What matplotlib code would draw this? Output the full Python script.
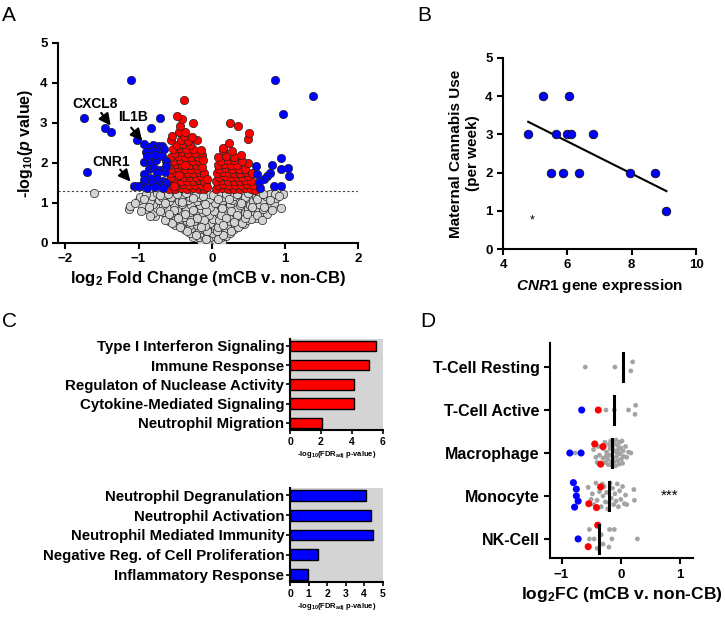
import matplotlib
matplotlib.use("Agg")
import matplotlib.pyplot as plt
import numpy as np

plt.rcParams["font.family"] = ["Liberation Sans", "DejaVu Sans"]
plt.rcParams["font.weight"] = "bold"
plt.rcParams["axes.labelweight"] = "bold"
plt.rcParams["mathtext.fontset"] = "custom"
plt.rcParams["mathtext.rm"] = "Liberation Sans:bold"
plt.rcParams["mathtext.bf"] = "Liberation Sans:bold"
plt.rcParams["mathtext.it"] = "Liberation Sans:bold:italic"
plt.rcParams["mathtext.default"] = "rm"
plt.rcParams["axes.linewidth"] = 1.5

BLUE = "#0000ff"
RED = "#ff0000"

# ---- panel A: volcano (log2 fold change, -log10 p) ----
grey_points = [
    (0.00, 0.02), (0.14, 0.02), (-0.15, 0.05), (-0.05, 0.05), (0.05, 0.06),
    (-0.26, 0.15), (-0.18, 0.14), (-0.10, 0.16), (-0.02, 0.15), (0.06, 0.15), (0.12, 0.14), (0.20, 0.16),
    (-0.30, 0.25), (-0.20, 0.26), (-0.12, 0.25), (-0.06, 0.24), (0.02, 0.25), (0.08, 0.26), (0.16, 0.25), (0.25, 0.24),
    (-0.38, 0.35), (-0.28, 0.36), (-0.18, 0.35), (-0.10, 0.34), (-0.04, 0.36), (0.04, 0.35), (0.10, 0.34), (0.20, 0.36), (0.30, 0.35),
    (-0.50, 0.45), (-0.42, 0.46), (-0.30, 0.45), (-0.20, 0.44), (-0.12, 0.46), (-0.05, 0.45), (0.03, 0.44),
    (0.12, 0.46), (0.22, 0.45), (0.32, 0.44), (0.44, 0.46),
    (-0.58, 0.55), (-0.45, 0.56), (-0.34, 0.55), (-0.24, 0.54), (-0.15, 0.56), (-0.08, 0.55), (0.05, 0.54),
    (0.14, 0.56), (0.25, 0.55), (0.36, 0.54), (0.48, 0.56), (-0.02, 0.50),
    (-0.77, 0.68), (-0.60, 0.65), (-0.50, 0.66), (-0.38, 0.64), (-0.28, 0.65), (-0.18, 0.66), (-0.10, 0.65),
    (0.06, 0.64), (0.16, 0.66), (0.28, 0.65), (0.40, 0.64), (0.52, 0.66), (0.60, 0.62), (0.02, 0.60),
    (-0.80, 0.75), (-0.66, 0.76), (-0.55, 0.74), (-0.42, 0.75), (-0.30, 0.76), (-0.20, 0.75), (-0.12, 0.74),
    (0.08, 0.75), (0.18, 0.76), (0.32, 0.74), (0.45, 0.75), (0.57, 0.76), (0.66, 0.74), (0.76, 0.73), (-0.04, 0.70),
    (-1.13, 0.85), (-0.90, 0.85), (-0.75, 0.86), (-0.60, 0.84), (-0.48, 0.85), (-0.35, 0.86), (-0.24, 0.85),
    (-0.14, 0.84), (0.10, 0.85), (0.22, 0.86), (0.35, 0.84), (0.50, 0.85), (0.62, 0.86), (0.70, 0.84), (0.95, 0.86),
    (0.03, 0.80), (-1.12, 0.93), (-0.95, 0.95), (-0.80, 0.96), (-0.66, 0.94), (-0.52, 0.95), (-0.40, 0.96),
    (-0.28, 0.95), (-0.16, 0.94), (0.12, 0.95), (0.25, 0.96), (0.38, 0.94), (0.52, 0.95), (0.65, 0.96),
    (0.80, 0.94), (-0.03, 0.90), (-0.99, 1.08), (-0.85, 1.05), (-0.72, 1.06), (-0.58, 1.04), (-0.45, 1.05),
    (-0.32, 1.06), (-0.20, 1.05), (-0.10, 1.04), (0.14, 1.05), (0.28, 1.06), (0.42, 1.04), (0.56, 1.05),
    (0.70, 1.06), (0.85, 1.00), (0.04, 1.00), (-0.98, 1.15), (-0.82, 1.16), (-0.68, 1.14), (-0.55, 1.15),
    (-0.42, 1.16), (-0.30, 1.15), (-0.18, 1.14), (0.16, 1.15), (0.30, 1.16), (0.45, 1.14), (0.60, 1.15),
    (0.74, 1.16), (0.88, 1.12), (-0.04, 1.10), (-1.61, 1.24), (-0.90, 1.23), (-0.75, 1.24), (-0.60, 1.22),
    (-0.48, 1.23), (-0.35, 1.24), (-0.22, 1.22), (-0.05, 1.23), (0.10, 1.24), (0.20, 1.22), (0.35, 1.23),
    (0.50, 1.25), (0.65, 1.23), (0.80, 1.22), (0.87, 1.22), (0.98, 1.23), (0.02, 1.20),
    # densely packed centre of the funnel
    (-0.08, 0.10), (0.09, 0.09), (-0.22, 0.20), (0.16, 0.20), (-0.34, 0.30), (0.26, 0.30), (-0.44, 0.40),
    (0.36, 0.40), (-0.54, 0.50), (0.42, 0.50), (-0.64, 0.58), (0.54, 0.60), (-0.70, 0.80), (0.62, 0.70),
    (-0.86, 0.90), (0.72, 0.90), (-0.92, 1.10), (0.80, 1.08), (-1.05, 1.00), (0.92, 1.18),
    (-0.07, 0.30), (0.07, 0.30), (-0.09, 0.42), (0.08, 0.40), (-0.10, 0.58), (0.10, 0.56), (-0.08, 0.80),
    (0.12, 0.70), (-0.09, 0.98), (0.08, 1.10), (-0.12, 1.18), (0.14, 0.88), (-0.20, 0.62), (0.20, 0.62),
    (-0.25, 0.82), (0.26, 0.80), (-0.26, 1.12), (0.24, 1.10), (-0.36, 0.72), (0.34, 0.70), (-0.40, 1.02),
    (0.40, 1.00), (-0.46, 0.62), (0.46, 0.62), (-0.52, 0.82), (0.55, 0.90), (-0.64, 1.00), (0.62, 1.10),
    (-0.70, 1.20), (0.70, 1.22), (-0.14, 0.40), (0.15, 0.45), (-0.30, 0.52), (0.30, 0.52), (-0.58, 0.72),
    (0.48, 0.72), (-0.84, 0.66), (0.68, 0.58), (-0.96, 0.80), (0.82, 0.82),
]

red_points = [
    (-0.58, 1.35), (-0.50, 1.35), (-0.42, 1.36), (-0.34, 1.35), (-0.26, 1.36), (-0.18, 1.35), (-0.10, 1.34),
    (-0.55, 1.45), (-0.47, 1.45), (-0.39, 1.46), (-0.31, 1.45), (-0.23, 1.44), (-0.15, 1.45), (-0.08, 1.46),
    (-0.58, 1.55), (-0.50, 1.56), (-0.42, 1.55), (-0.34, 1.54), (-0.26, 1.55), (-0.18, 1.56), (-0.11, 1.55),
    (-0.55, 1.65), (-0.46, 1.66), (-0.38, 1.65), (-0.30, 1.64), (-0.22, 1.65), (-0.14, 1.66),
    (-0.57, 1.75), (-0.49, 1.76), (-0.41, 1.75), (-0.33, 1.74), (-0.25, 1.75), (-0.17, 1.76), (-0.10, 1.74),
    (-0.55, 1.85), (-0.46, 1.86), (-0.37, 1.85), (-0.28, 1.84), (-0.20, 1.85),
    (-0.58, 1.95), (-0.49, 1.96), (-0.40, 1.95), (-0.31, 1.94), (-0.22, 1.95),
    (-0.52, 2.05), (-0.43, 2.06), (-0.34, 2.05), (-0.25, 2.04), (-0.17, 2.05),
    (-0.55, 2.15), (-0.46, 2.16), (-0.37, 2.15), (-0.28, 2.14), (-0.19, 2.15), (-0.13, 2.20),
    (-0.50, 2.25), (-0.41, 2.26), (-0.32, 2.25), (-0.23, 2.24),
    (-0.53, 2.35), (-0.44, 2.36), (-0.35, 2.35), (-0.26, 2.34), (-0.15, 2.32),
    (-0.48, 2.45), (-0.39, 2.46), (-0.30, 2.45),
    (-0.56, 2.58), (-0.42, 2.56), (-0.33, 2.55), (-0.20, 2.58),
    (-0.54, 2.66), (-0.38, 2.66), (-0.27, 2.65),
    (-0.45, 2.78), (-0.36, 2.78), (-0.43, 2.91), (-0.26, 2.99), (-0.40, 3.10), (-0.48, 3.16), (-0.38, 3.56),
    (-0.06, 1.40), (-0.07, 1.60), (-0.13, 1.90), (-0.12, 2.08), (-0.52, 1.42), (-0.45, 1.70), (-0.36, 1.95),
    (0.06, 1.35), (0.14, 1.36), (0.22, 1.35), (0.30, 1.34), (0.38, 1.35), (0.46, 1.36), (0.54, 1.35), (0.59, 1.33),
    (0.08, 1.45), (0.16, 1.46), (0.24, 1.45), (0.32, 1.44), (0.40, 1.45), (0.48, 1.46), (0.56, 1.45),
    (0.06, 1.55), (0.14, 1.56), (0.22, 1.55), (0.30, 1.54), (0.38, 1.55), (0.46, 1.56), (0.53, 1.55),
    (0.10, 1.65), (0.18, 1.66), (0.26, 1.65), (0.34, 1.64), (0.42, 1.65), (0.50, 1.66),
    (0.07, 1.75), (0.15, 1.76), (0.23, 1.75), (0.31, 1.74), (0.39, 1.75), (0.47, 1.76), (0.55, 1.75),
    (0.10, 1.85), (0.19, 1.86), (0.28, 1.85), (0.37, 1.84), (0.46, 1.85),
    (0.08, 1.95), (0.17, 1.96), (0.26, 1.95), (0.35, 1.94), (0.49, 1.99),
    (0.12, 2.05), (0.22, 2.06), (0.31, 2.08), (0.42, 2.05),
    (0.08, 2.15), (0.20, 2.16), (0.30, 2.15), (0.40, 2.20),
    (0.15, 2.32), (0.27, 2.30), (0.15, 2.37), (0.24, 2.50), (0.49, 2.60), (0.51, 2.74), (0.36, 2.93), (0.25, 2.99),
]

blue_points = [
    (-1.10, 4.07), (-1.75, 3.12), (-1.71, 1.78), (-1.46, 2.88), (-1.37, 2.76), (-0.70, 3.11), (-0.83, 2.88),
    (-1.02, 2.58), (-0.93, 2.48), (-0.86, 2.40), (-0.80, 2.45), (-0.74, 2.43), (-0.68, 2.41), (-0.72, 2.33),
    (-0.90, 2.28), (-0.80, 2.30), (-0.65, 2.35), (-0.93, 2.02), (-0.84, 2.02), (-0.76, 2.08), (-0.68, 2.16),
    (-0.63, 2.05), (-0.88, 2.17), (-0.78, 2.20), (-0.86, 1.85), (-0.79, 1.86), (-0.70, 1.82), (-0.64, 1.78),
    (-0.92, 1.72), (-0.75, 1.74), (-0.62, 1.92), (-0.84, 1.62), (-0.75, 1.60), (-0.66, 1.55), (-0.82, 1.50),
    (-0.91, 1.45), (-0.71, 1.45), (-0.62, 1.50), (-0.93, 1.58), (-0.97, 1.41), (-1.06, 1.41), (-1.01, 1.41),
    (-0.88, 1.36), (-0.66, 1.38), (-0.78, 1.40),
    (0.86, 4.07), (1.38, 3.68), (0.98, 3.22), (0.94, 2.12), (1.04, 1.87), (0.94, 1.84), (1.05, 1.66),
    (0.82, 1.94), (0.79, 1.74), (0.75, 1.68), (0.71, 1.60), (0.60, 1.91), (0.65, 1.52), (0.66, 1.37),
    (0.85, 1.41), (0.94, 1.41), (0.62, 1.72),
]

gene_labels = ["CXCL8", "IL1B", "CNR1"]
gene_label_xy = [(-1.60, 3.47), (-1.07, 3.14), (-1.37, 2.01)]
gene_arrow_from = [(-1.51, 3.25), (-1.10, 2.88), (-1.25, 1.83)]
gene_arrow_to = [(-1.38, 2.93), (-0.95, 2.55), (-1.11, 1.53)]

# ---- panel B: CNR1 expression vs maternal cannabis use ----
cnr1_expr = [4.78, 5.25, 5.48, 5.63, 5.85, 5.99, 6.04, 6.11, 6.37, 6.80, 7.94, 8.73, 9.08]
cannabis_use = [3, 4, 2, 3, 2, 3, 4, 3, 2, 3, 2, 2, 1]

# ---- panel C: GO term enrichment ----
up_terms = ["Type I Interferon Signaling", "Immune Response", "Regulaton of Nuclease Activity",
            "Cytokine-Mediated Signaling", "Neutrophil Migration"]
up_scores = [5.56, 5.09, 4.16, 4.12, 2.08]
down_terms = ["Neutrophil Degranulation", "Neutrophil Activation", "Neutrophil Mediated Immunity",
              "Negative Reg. of Cell Proliferation", "Inflammatory Response"]
down_scores = [4.09, 4.38, 4.45, 1.49, 0.98]

# ---- panel D: cell type signatures (log2FC, row jitter) ----
cell_types = ["T-Cell Resting", "T-Cell Active", "Macrophage", "Monocyte", "NK-Cell"]
cell_medians = [0.03, -0.11, -0.15, -0.20, -0.36]
cell_grey = [
    [(-0.60, 0.0), (-0.10, 0.0), (0.20, -0.12), (0.17, 0.09)],
    [(-0.25, 0.0), (-0.11, 0.0), (0.13, 0.0), (0.25, -0.11), (0.24, 0.10)],
    [(-0.77, 0.0), (-0.46, -0.08), (-0.42, 0.10), (-0.38, -0.15), (-0.36, 0.05), (-0.40, 0.22), (-0.30, -0.10),
     (-0.30, 0.12), (-0.27, -0.25), (-0.26, 0.22), (-0.24, -0.02), (-0.22, 0.15), (-0.20, -0.20), (-0.19, 0.05),
     (-0.17, -0.28), (-0.16, 0.28), (-0.14, -0.12), (-0.13, 0.10), (-0.12, -0.22), (-0.11, 0.20), (-0.10, -0.05),
     (-0.09, 0.30), (-0.08, -0.30), (-0.07, 0.08), (-0.06, -0.18), (-0.05, 0.18), (-0.04, -0.08), (-0.03, 0.26),
     (-0.02, -0.25), (-0.01, 0.02), (0.00, -0.12), (0.01, 0.14), (0.02, -0.28), (0.03, 0.24), (0.04, -0.05),
     (0.05, 0.08), (0.08, -0.15), (0.10, 0.10), (0.13, -0.02), (0.17, 0.00), (-0.21, 0.27), (-0.25, 0.08),
     (-0.18, -0.10), (-0.06, 0.00), (-0.15, 0.20)],
    [(-0.55, -0.20), (-0.50, 0.08), (-0.48, -0.05), (-0.45, 0.20), (-0.42, -0.30), (-0.40, 0.10), (-0.36, -0.10),
     (-0.33, 0.25), (-0.30, 0.00), (-0.28, -0.22), (-0.26, 0.14), (-0.24, -0.08), (-0.22, 0.30), (-0.18, -0.30),
     (-0.16, 0.05), (-0.14, -0.18), (-0.12, 0.20), (-0.10, -0.05), (-0.08, 0.12), (-0.06, -0.28), (-0.04, 0.25),
     (-0.02, -0.12), (0.00, 0.08), (0.03, -0.22), (0.06, 0.18), (0.08, -0.02), (0.22, -0.15), (0.23, 0.10),
     (-0.20, 0.15), (-0.31, -0.28), (0.10, 0.20)],
    [(-0.53, -0.22), (-0.53, 0.0), (-0.45, 0.0), (-0.19, -0.22), (-0.11, -0.22), (-0.15, 0.0), (0.28, 0.0),
     (-0.20, 0.19), (-0.33, -0.10), (-0.30, 0.12), (-0.40, 0.22)],
]
cell_blue = [
    [],
    [(-0.66, 0.0)],
    [(-0.86, 0.0), (-0.67, 0.0)],
    [(-0.80, -0.31), (-0.75, -0.16), (-0.75, 0.0), (-0.72, 0.12), (-0.78, 0.26)],
    [(-0.72, 0.0)],
]
cell_red = [
    [],
    [(-0.38, 0.0)],
    [(-0.44, -0.21), (-0.34, 0.26), (-0.30, -0.15)],
    [(-0.34, -0.21), (-0.54, 0.18), (-0.41, 0.27)],
    [(-0.39, -0.32), (-0.55, 0.18)],
]


def bold_ticks(ax):
    for lab in ax.get_xticklabels() + ax.get_yticklabels():
        lab.set_fontweight("bold")


def clean(ax):
    ax.spines["top"].set_visible(False)
    ax.spines["right"].set_visible(False)
    ax.tick_params(width=1.5, length=4, labelsize=9.5)
    bold_ticks(ax)


fig = plt.figure(figsize=(7.25, 6.21), dpi=100)

# panel A
axA = fig.add_axes([0.080, 0.609, 0.414, 0.322])
for pts, col in [(grey_points, "#d3d3d3"), (red_points, RED), (blue_points, BLUE)]:
    xs, ys = zip(*pts)
    axA.scatter(xs, ys, s=36, c=col, edgecolors="#222222", linewidths=0.5, zorder=3)
axA.axhline(1.3, ls=(0, (2, 2)), color="#444444", lw=0.8, zorder=1)
for lab, txy, a0, a1 in zip(gene_labels, gene_label_xy, gene_arrow_from, gene_arrow_to):
    axA.text(txy[0], txy[1], lab, ha="center", va="center", fontsize=10, zorder=5)
    axA.annotate("", xy=a1, xytext=a0, zorder=5,
                 arrowprops=dict(arrowstyle="-|>,head_length=0.7,head_width=0.35",
                                 color="black", lw=1.5, shrinkA=0, shrinkB=0))
axA.set_xlim(-2.1, 2.0)
axA.set_ylim(0, 5)
axA.set_xticks([-2, -1, 0, 1, 2])
axA.set_yticks([0, 1, 2, 3, 4, 5])
axA.set_xlabel("log$_2$ Fold Change (mCB v. non-CB)", fontsize=12, labelpad=3)
axA.set_ylabel("-log$_{10}$($\\mathit{p}$ value)", fontsize=11.5, labelpad=4)
clean(axA)

# panel B
axB = fig.add_axes([0.694, 0.599, 0.266, 0.308])
axB.scatter(cnr1_expr, cannabis_use, s=38, c=BLUE, edgecolors="#111111", linewidths=0.6, zorder=3)
slope, icpt = np.polyfit(cnr1_expr, cannabis_use, 1)
xfit = np.array([min(cnr1_expr), max(cnr1_expr)])
axB.plot(xfit, slope * xfit + icpt, color="black", lw=1.5, zorder=2)
axB.text(4.9, 0.75, "*", ha="center", va="center", fontsize=9, fontweight="normal")
axB.set_xlim(4, 10)
axB.set_ylim(0, 5)
axB.set_xticks([4, 6, 8, 10])
axB.set_yticks([0, 1, 2, 3, 4, 5])
axB.set_xlabel("$\\mathit{CNR1}$ gene expression", fontsize=11, labelpad=4)
axB.set_ylabel("Maternal Cannabis Use\n(per week)", fontsize=11, labelpad=4)
clean(axB)

# panel C
for rect, terms, scores, col, xmax in [
    ([0.400, 0.308, 0.128, 0.146], up_terms, up_scores, RED, 6),
    ([0.400, 0.063, 0.128, 0.151], down_terms, down_scores, BLUE, 5),
]:
    ax = fig.add_axes(rect)
    ax.set_facecolor("#d4d4d4")
    pos = np.arange(len(terms))
    ax.barh(pos, scores, height=0.55, color=col, edgecolor="black", linewidth=1.0, zorder=3)
    ax.set_yticks(pos)
    ax.set_yticklabels(terms, fontsize=10.8)
    ax.set_ylim(len(terms) - 0.65, -0.35)
    ax.set_xlim(0, xmax)
    ax.set_xticks(range(0, xmax + 1, 2 if xmax == 6 else 1))
    ax.spines["top"].set_visible(False)
    ax.spines["right"].set_visible(False)
    ax.tick_params(axis="y", width=1.2, length=3, labelsize=10.8, pad=1)
    ax.tick_params(axis="x", width=1.2, length=3, labelsize=7.5, pad=2)
    ax.set_xlabel("-log$_{10}$(FDR$_{adj}$ p-value)", fontsize=5.5, labelpad=2)
    bold_ticks(ax)

# panel D
axD = fig.add_axes([0.759, 0.101, 0.197, 0.346])
for i in range(len(cell_types)):
    for pts, col, size in [(cell_grey[i], "#a3a3a3", 12), (cell_red[i], RED, 26), (cell_blue[i], BLUE, 26)]:
        if pts:
            xs, offs = zip(*pts)
            axD.scatter(xs, i + np.array(offs), s=size, c=col, edgecolors="none", zorder=3)
    axD.plot([cell_medians[i]] * 2, [i - 0.32, i + 0.32], color="black", lw=2.2, zorder=4)
axD.text(0.83, 3, "***", ha="center", va="center", fontsize=11, fontweight="normal")
axD.set_yticks(range(len(cell_types)))
axD.set_yticklabels(cell_types, fontsize=11.5)
axD.set_ylim(4.45, -0.55)
axD.set_xlim(-1.19, 1.22)
axD.set_xticks([-1, 0, 1])
axD.set_xlabel("log$_2$FC (mCB v. non-CB)", fontsize=12.5, labelpad=3)
clean(axD)
axD.tick_params(axis="y", labelsize=11.5)

for lab, x, y in [("A", 0.003, 0.99), ("B", 0.575, 0.99), ("C", 0.003, 0.497), ("D", 0.579, 0.497)]:
    fig.text(x, y, lab, fontsize=15, fontweight="normal", ha="left", va="top")

fig.savefig("out.png", dpi=100)
